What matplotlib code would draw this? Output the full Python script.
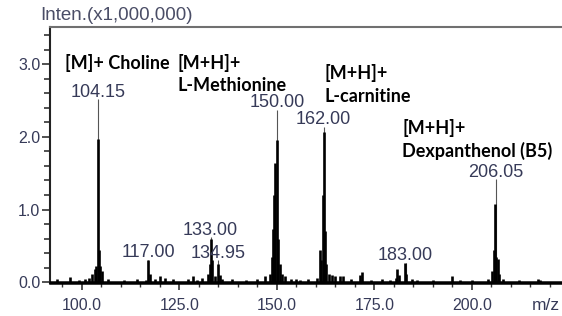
import matplotlib
matplotlib.use('agg')
import matplotlib.pyplot as plt
from matplotlib.ticker import MultipleLocator

# profile of the spectrum (m/z, intensity x 1e6)
profile_mz = [93.5, 96.9, 99.2, 100.8, 101.8, 102.6, 103.3, 103.7, 104.15, 104.4,
              104.7, 105.1, 106.7, 110.8, 114.0, 116.3, 117.0, 117.4, 118.7, 120.0,
              121.3, 123.3, 127.2, 128.5, 129.5, 130.8, 132.3, 132.8, 133.0, 133.4,
              134.0, 134.95, 135.3, 136.0, 138.5, 142.0, 145.0, 147.0, 148.3, 148.7,
              149.0, 149.3, 149.6, 150.0, 150.3, 150.7, 151.3, 152.0, 153.5, 155.0,
              156.0, 158.0, 160.3, 161.0, 161.4, 161.7, 162.0, 162.3, 162.7, 163.4,
              164.1, 164.9, 166.2, 167.0, 169.0, 171.4, 171.8, 174.0, 176.9, 179.0,
              180.5, 180.8, 181.2, 182.8, 183.2, 184.6, 186.0, 190.0, 194.9, 197.0,
              200.0, 204.0, 205.2, 205.6, 205.9, 206.3, 206.6, 207.0, 208.0, 212.0,
              216.9, 217.5]
profile_int = [0.04, 0.07, 0.03, 0.05, 0.06, 0.12, 0.18, 0.22, 1.97, 0.45,
               0.22, 0.15, 0.04, 0.03, 0.04, 0.03, 0.31, 0.12, 0.05, 0.08,
               0.06, 0.04, 0.04, 0.08, 0.03, 0.06, 0.12, 0.25, 0.60, 0.30,
               0.08, 0.25, 0.1, 0.05, 0.05, 0.03, 0.05, 0.08, 0.12, 0.35,
               0.73, 1.2, 1.64, 1.95, 0.6, 0.25, 0.12, 0.08, 0.05, 0.04,
               0.03, 0.04, 0.06, 0.45, 0.3, 1.2, 2.07, 0.7, 0.25, 0.12,
               0.10, 0.08, 0.08, 0.08, 0.04, 0.10, 0.14, 0.03, 0.04, 0.03,
               0.06, 0.18, 0.10, 0.27, 0.12, 0.04, 0.03, 0.03, 0.08, 0.03,
               0.03, 0.04, 0.15, 0.45, 1.08, 0.35, 0.32, 0.12, 0.04, 0.03,
               0.04, 0.03]

# labelled centroid peaks
peak_mz = [104.15, 117.00, 133.00, 134.95, 150.00, 162.00, 183.00, 206.05]
peak_int = [2.52, 0.31, 0.62, 0.30, 2.37, 2.14, 0.27, 1.42]
peak_text = ['104.15', '117.00', '133.00', '134.95', '150.00', '162.00', '183.00', '206.05']

num_color = '#363a58'

fig = plt.figure(figsize=(5.62, 3.16), dpi=100)
ax = fig.add_axes([50 / 562, 1 - 283 / 316, 1 - 50 / 562, 256 / 316])

ax.axhline(0, color='black', lw=1.8, zorder=3)
ax.vlines(peak_mz, 0, peak_int, color='#555555', lw=0.8)
ax.vlines(profile_mz, 0, profile_int, color='black', lw=1.9)

for m, h, t in zip(peak_mz, peak_int, peak_text):
    ax.annotate(t, (m, h), xytext=(0, 5), textcoords='offset points',
                ha='center', va='center', fontsize=13, color=num_color,
                family='Liberation Sans')

ann = dict(fontsize=13, fontweight='bold', family='Lato', color='black',
           ha='left', va='center')
ax.text(95.6, 3.01, '[M]+ Choline', **ann)
ax.text(124.6, 3.01, '[M+H]+', **ann)
ax.text(124.6, 2.71, 'L-Methionine', **ann)
ax.text(162.3, 2.88, '[M+H]+', **ann)
ax.text(162.3, 2.55, 'L-carnitine', **ann)
ax.text(182.1, 2.12, '[M+H]+', **ann)
ax.text(182.1, 1.80, 'Dexpanthenol (B5)', **ann)

ax.set_xlim(91.8, 223.1)
ax.set_ylim(-0.01, 3.51)
ax.xaxis.set_major_locator(MultipleLocator(25))
ax.xaxis.set_minor_locator(MultipleLocator(5))
ax.yaxis.set_major_locator(MultipleLocator(1))
ax.yaxis.set_minor_locator(MultipleLocator(0.2))
ax.xaxis.set_major_formatter(plt.FormatStrFormatter('%.1f'))
ax.yaxis.set_major_formatter(plt.FormatStrFormatter('%.1f'))
ax.tick_params(axis='both', which='major', labelsize=11.5, labelcolor=num_color,
               color='#333333', width=1.2)
ax.tick_params(axis='y', which='major', length=6, pad=1)
ax.tick_params(axis='y', which='minor', length=4, width=1.2, color='#333333')
ax.tick_params(axis='x', which='major', length=5, pad=6)
ax.tick_params(axis='x', which='minor', length=3, width=1, color='#333333')
for lab in ax.get_xticklabels() + ax.get_yticklabels():
    lab.set_family('Liberation Sans')

ax.spines['right'].set_visible(False)
ax.spines['top'].set_color('#707070')
ax.spines['top'].set_linewidth(1.5)
ax.spines['left'].set_color('#222222')
ax.spines['left'].set_linewidth(1.5)
ax.spines['bottom'].set_linewidth(1.8)

fig.text(40 / 562, 1 - 15 / 316, 'Inten.(x1,000,000)', fontsize=13.5,
         color='#4a4d66', family='Liberation Sans', ha='left', va='center')
fig.text(560 / 562, 1 - 305 / 316, 'm/z', fontsize=12.5, color=num_color,
         family='Liberation Sans', ha='right', va='center')

plt.savefig('out.png', dpi=100)
